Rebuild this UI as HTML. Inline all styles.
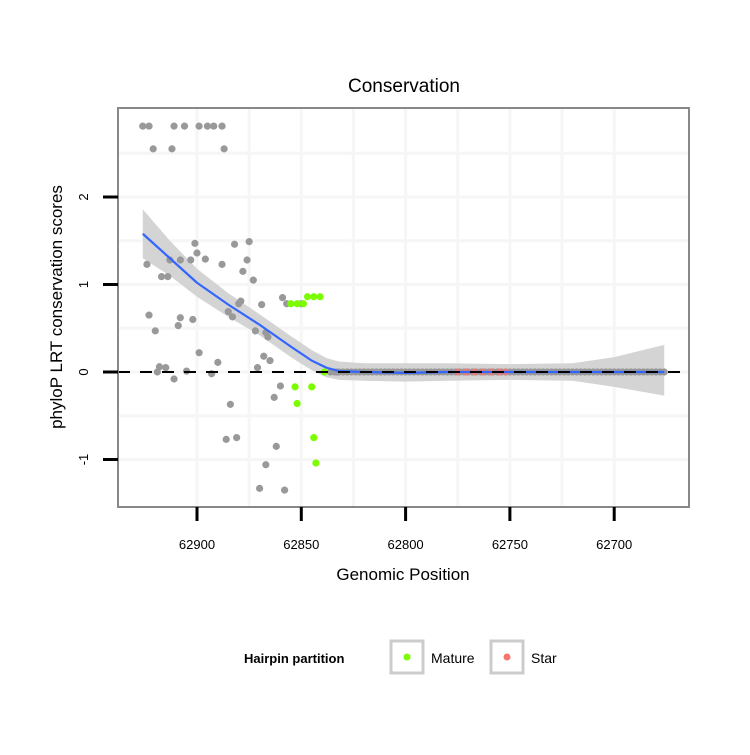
<!DOCTYPE html>
<html><head><meta charset="utf-8"><style>
body{margin:0;background:#fff;font-family:"Liberation Sans",sans-serif}
</style></head><body>
<svg id="chart" width="750" height="750" xmlns="http://www.w3.org/2000/svg" font-family="Liberation Sans, sans-serif">
<rect width="750" height="750" fill="#fff"/>
<text x="404" y="92" font-size="19" text-anchor="middle">Conservation</text>
<g id="grid"></g>
<g id="band"></g>
<g id="pts"></g>
<g id="fit"></g>
<line x1="118" x2="690" y1="372" y2="372" stroke="#000" stroke-width="2" stroke-dasharray="12,10" id="zeroline"/>
<rect x="118" y="108" width="571" height="399" fill="none" stroke="#888" stroke-width="2"/>
<g id="axes"></g>
<text x="403" y="580" font-size="17" text-anchor="middle">Genomic Position</text>
<text transform="translate(62,307) rotate(-90)" font-size="17" text-anchor="middle">phyloP LRT conservation scores</text>
<g>
<text x="244" y="663" font-size="13" font-weight="bold">Hairpin partition</text>
<g>
<rect x="391" y="641" width="32" height="32" fill="#fff" stroke="#ccc" stroke-width="3"/>
<circle cx="407" cy="657" r="3.5" fill="#7cfc00"/>
<text x="431" y="663" font-size="14">Mature</text></g>
<g>
<rect x="491" y="641" width="32" height="32" fill="#fff" stroke="#ccc" stroke-width="3"/>
<circle cx="507" cy="657" r="3.5" fill="#f8766d"/>
<text x="531" y="663" font-size="14">Star</text></g>
</g>
</svg>
<script>
const grayPos=[62926,62923,62911,62906,62899,62895,62892,62888,62921,62912,62887,62924,62901,62900,62913,62908,62903,62896,62888,62882,62875,62876,62878,62873,62917,62914,62879,62869,62859,62857,62850,62923,62920,62908,62909,62902,62885,62883,62880,62872,62866,62867,62899,62890,62868,62865,62871,62918,62919,62915,62905,62911,62893,62833,62860,62863,62884,62886,62881,62862,62867,62870,62858];
const grayVal=[2.81,2.81,2.81,2.81,2.81,2.81,2.81,2.81,2.55,2.55,2.55,1.23,1.47,1.36,1.28,1.28,1.28,1.29,1.23,1.46,1.49,1.28,1.15,1.05,1.09,1.09,0.81,0.77,0.85,0.78,0.78,0.65,0.47,0.62,0.53,0.6,0.69,0.63,0.78,0.47,0.4,0.45,0.22,0.11,0.18,0.13,0.05,0.06,0,0.05,0.01,-0.08,-0.02,0,-0.16,-0.29,-0.37,-0.77,-0.75,-0.85,-1.06,-1.33,-1.35];
const zeroPos=[62836,62834,62832,62830,62828,62826,62824,62822,62820,62818,62816,62814,62812,62810,62808,62806,62804,62802,62800,62798,62796,62794,62792,62790,62788,62786,62784,62782,62780,62778,62776,62774,62772,62770,62768,62766,62764,62762,62760,62758,62756,62754,62752,62750,62748,62746,62744,62742,62740,62738,62736,62734,62732,62730,62728,62726,62724,62722,62720,62718,62716,62714,62712,62710,62708,62706,62704,62702,62700,62698,62696,62694,62692,62690,62688,62686,62684,62682,62680,62678,62676];
const maturePos=[62847,62844,62841,62855,62852,62849,62839,62853,62845,62852,62844,62843];
const matureVal=[0.86,0.86,0.86,0.78,0.78,0.78,0.0,-0.17,-0.17,-0.36,-0.75,-1.04];
const starPos=[62775,62771,62767,62763,62759,62755,62752];
const starVal=[0,0,0,0,0,0,0];
const fitPos=[62926,62913,62900,62885,62870,62855,62845,62838,62832,62820,62800,62780,62750,62720,62700,62676];
const fitVal=[1.58,1.3,1.02,0.77,0.54,0.29,0.13,0.05,0.01,0,-0.01,0,0,0,0,0];
const fitLo=[1.3,1.1,0.86,0.63,0.42,0.17,0.02,-0.06,-0.09,-0.1,-0.11,-0.1,-0.09,-0.1,-0.17,-0.27];
const fitHi=[1.86,1.5,1.18,0.9,0.66,0.41,0.25,0.16,0.12,0.1,0.1,0.1,0.09,0.1,0.17,0.31];
const xTicks=[62900,62850,62800,62750,62700];
const yTicks=[-1,0,1,2];
const xMinor=[62875,62825,62775,62725];
const yMinor=[-0.5,0.5,1.5,2.5];
const NS='http://www.w3.org/2000/svg';
const X=p=>197+(62900-p)*2.086;
const Y=v=>372-v*87.5;
function mk(tag,attrs,parent){const e=document.createElementNS(NS,tag);for(const k in attrs)e.setAttribute(k,attrs[k]);parent.appendChild(e);return e;}
const grid=document.getElementById('grid');
xTicks.concat(xMinor).forEach(p=>{const l=mk('line',{x1:X(p),x2:X(p),y1:108,y2:507,stroke:'#f6f6f6','stroke-width':3},grid);

});
yTicks.concat(yMinor).forEach(v=>{const l=mk('line',{x1:118,x2:690,y1:Y(v),y2:Y(v),stroke:'#f6f6f6','stroke-width':3},grid);

});
let d='';fitPos.forEach((p,i)=>{d+=(i?'L':'M')+X(p)+','+Y(fitHi[i]);});
for(let i=fitPos.length-1;i>=0;i--)d+='L'+X(fitPos[i])+','+Y(fitLo[i]);
const band=mk('path',{d:d+'Z',fill:'#d4d4d4'},document.getElementById('band'));


const pts=document.getElementById('pts');
zeroPos.forEach(p=>{const c=mk('circle',{cx:X(p),cy:Y(0),r:3.6,fill:'#999'},pts);

});
starPos.forEach((p,i)=>{const c=mk('circle',{cx:X(p),cy:Y(starVal[i]),r:3.6,fill:'#f8766d',opacity:0.8},pts);

});
grayPos.forEach((p,i)=>{const c=mk('circle',{cx:X(p),cy:Y(grayVal[i]),r:3.6,fill:'#999'},pts);

});
maturePos.forEach((p,i)=>{const c=mk('circle',{cx:X(p),cy:Y(matureVal[i]),r:3.6,fill:'#7cfc00'},pts);

});
let fd='';fitPos.forEach((p,i)=>{fd+=(i?'L':'M')+X(p)+','+Y(fitVal[i]);});
const fl=mk('path',{d:fd,fill:'none',stroke:'#3366ff','stroke-width':2.2,'stroke-linejoin':'round'},document.getElementById('fit'));


const axes=document.getElementById('axes');
xTicks.forEach(p=>{const t=mk('line',{x1:X(p),x2:X(p),y1:507,y2:521,stroke:'#000','stroke-width':3},axes);


const tx=mk('text',{x:X(p),y:549,'font-size':13,'text-anchor':'middle'},axes);tx.textContent=p;

});
yTicks.forEach(v=>{const t=mk('line',{x1:103,x2:118,y1:Y(v),y2:Y(v),stroke:'#000','stroke-width':3},axes);


const tx=mk('text',{transform:'translate(88,'+Y(v)+') rotate(-90)','font-size':13,'text-anchor':'middle'},axes);tx.textContent=v;

});
</script>
</body></html>
